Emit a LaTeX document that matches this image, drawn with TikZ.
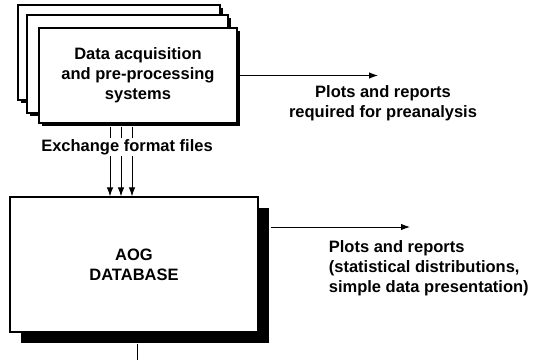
\documentclass[tikz,border=0pt]{standalone}
\usepackage{fontspec}
\setmainfont{Liberation Sans}
\usepackage{tikz}
\usetikzlibrary{arrows.meta,shadows}

\begin{document}
\begin{tikzpicture}[x=1pt, y=-1pt, line width=1pt,
    sysbox/.style={draw, fill=white, line width=1.2pt, drop shadow={shadow xshift=3pt, shadow yshift=-3pt, fill=black, opacity=1}},
    dbbox/.style={draw, fill=white, line width=1.2pt, drop shadow={shadow xshift=11pt, shadow yshift=-11pt, fill=black, opacity=1}},
    flow/.style={-{Latex[length=9pt,width=6.5pt]}},
    txt/.style={font=\fontsize{16.5}{20}\selectfont\bfseries, align=center}]
             \useasboundingbox (0,0) rectangle (535,360);

             % stacked acquisition systems
             \node[sysbox, minimum width=202pt, minimum height=95pt] (back1) at (119,52.5) {};
             \node[sysbox, minimum width=201pt, minimum height=98pt] (back2) at (127.5,64) {};
             \node[sysbox, txt, minimum width=198pt, minimum height=95pt] (acq) at (138,75.5)
                  {Data acquisition\\and pre-processing\\systems};

             % database
             \node[dbbox, txt, minimum width=248pt, minimum height=135pt] (db) at (134,264.5)
                  {AOG\\DATABASE};

             % reports
             \node[txt] (prerep) at (383,103) {Plots and reports\\required for preanalysis};
             \node[txt, align=left, anchor=west] (dbrep) at (325,268)
                  {Plots and reports\\(statistical distributions,\\simple data presentation)};

             \coordinate (tip1) at (378,75.5);
             \coordinate (tip2) at (410,227);
             \coordinate (dbout) at (137,360);

             \draw[flow] (acq.east) -- (tip1);
             \draw[flow] ([xshift=12pt]db.east |- tip2) -- (tip2);

             % exchange files
             \foreach \dx in {-28,-17,-6}
               \draw[flow] ([xshift=\dx pt, yshift=-3pt]acq.south) -- ([xshift=\dx pt]acq.south |- db.north);
             \node[txt, fill=white, inner xsep=1pt, inner ysep=1pt] (exch) at (127,147) {Exchange format files};

             \draw ([yshift=-11pt]db.south -| dbout) -- (dbout);
\end{tikzpicture}
\end{document}
